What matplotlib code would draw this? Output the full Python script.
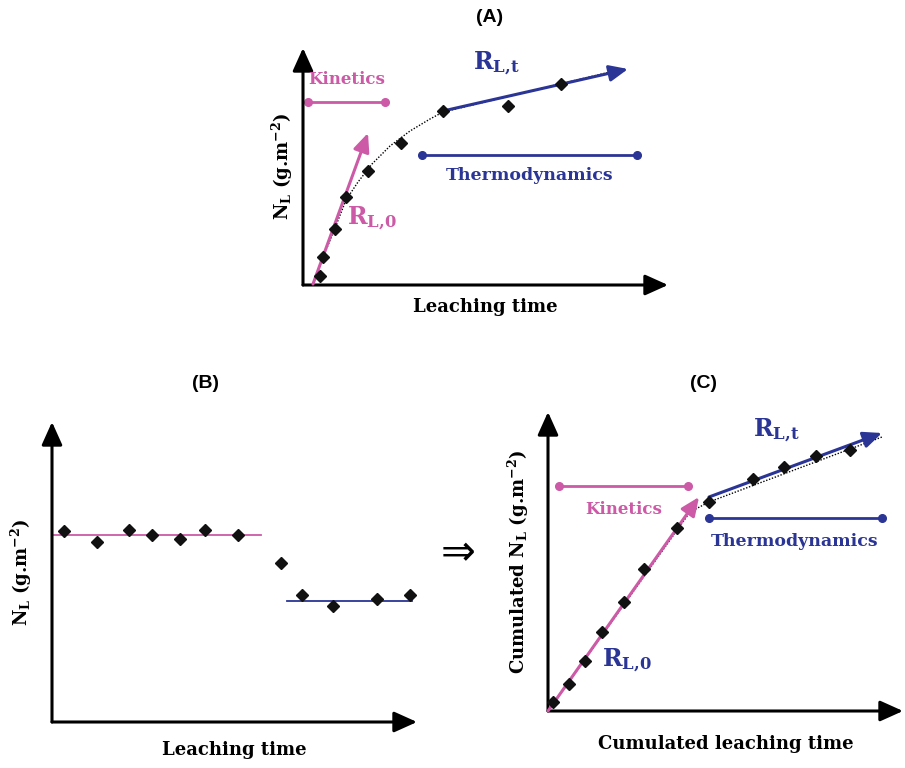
import matplotlib
matplotlib.use("Agg")
import matplotlib.pyplot as plt

PINK = "#CC5AA6"
BLUE = "#2B3595"
SERIF = "DejaVu Serif"
plt.rcParams["font.family"] = [SERIF, "DejaVu Sans"]
plt.rcParams["mathtext.default"] = "regular"

# ---------------- data (arbitrary units) ----------------
# Panel A : N_L vs leaching time
a_x = [1.7, 2.0, 3.2, 4.3, 6.5, 9.8, 14.0, 20.5, 25.8]
a_y = [0.9, 2.8, 5.6, 8.8, 11.4, 14.2, 17.4, 17.9, 20.1]
a_fit_x = [1.0, 2.1, 3.2, 4.3, 5.5, 6.9, 8.7, 10.7, 12.7, 14.0, 30.7]
a_fit_y = [0.1, 3.0, 5.7, 8.5, 10.3, 12.1, 13.9, 15.4, 16.6, 17.3, 21.3]
a_r0 = [(1.0, 0.1), (6.5, 15.2)]
a_rt = [(14.0, 17.4), (32.5, 21.6)]
a_kin = [(0.5, 8.2), 18.3]
a_thermo = [(11.9, 33.4), 13.0]

# Panel B : N_L per interval vs leaching time
b_x = [1.2, 4.5, 7.7, 10.0, 12.8, 15.3, 18.6, 22.9, 25.0, 28.1, 32.5, 35.8]
b_y = [19.1, 18.0, 19.2, 18.7, 18.3, 19.2, 18.7, 15.9, 12.7, 11.6, 12.3, 12.7]
b_kin = [(0.2, 20.9), 18.7]
b_thermo = [(23.5, 36.0), 12.1]

# Panel C : cumulated N_L vs cumulated leaching time
c_x = [0.5, 2.1, 3.7, 5.4, 7.6, 9.6, 12.9, 16.1, 20.5, 23.6, 26.8, 30.2]
c_y = [0.9, 2.7, 5.0, 7.9, 10.9, 14.2, 18.3, 20.9, 23.2, 24.4, 25.5, 26.1]
c_fit_x = [0.0, 14.2, 16.1, 33.4]
c_fit_y = [0.0, 19.9, 20.9, 27.4]
c_r0 = [(0.0, 0.0), (15.1, 21.4)]
c_rt = [(16.1, 21.4), (33.4, 27.8)]
c_kin = [(1.1, 14.0), 22.5]
c_thermo = [(16.1, 33.4), 19.3]

W, H = 905, 768
fig = plt.figure(figsize=(W / 100, H / 100), dpi=100)


def panel(ox, oy, w, h):
    ax = fig.add_axes([ox / W, (H - oy) / H, w / W, h / H])
    ax.set_xlim(0, w / 10)
    ax.set_ylim(0, h / 10)
    ax.set_xticks([])
    ax.set_yticks([])
    for s in ax.spines.values():
        s.set_visible(False)
    ax.patch.set_alpha(0)
    xl, yl = ax.get_xlim(), ax.get_ylim()
    kw = dict(arrowstyle="-|>,head_length=1.0,head_width=0.45", lw=2.2,
              color="black", mutation_scale=14, shrinkA=0, shrinkB=0)
    ax.annotate("", xy=(0, yl[1]), xytext=(0, 0), arrowprops=kw,
                annotation_clip=False)
    ax.annotate("", xy=(xl[1], 0), xytext=(0, 0), arrowprops=kw,
                annotation_clip=False)
    return ax


def arrow(ax, seg, color):
    ax.annotate("", xy=seg[1], xytext=seg[0],
                arrowprops=dict(arrowstyle="-|>,head_length=0.8,head_width=0.35",
                                lw=2.2, color=color, mutation_scale=14,
                                shrinkA=0, shrinkB=0),
                annotation_clip=False)


def span(ax, rng, y, color):
    ax.plot(rng, [y, y], color=color, lw=2.0, marker="o", ms=5.5,
            clip_on=False)


def diamonds(ax, x, y):
    ax.plot(x, y, ls="none", marker="D", ms=5.8, color="#111111",
            clip_on=False, zorder=5)


lab = dict(fontsize=13, fontweight="bold", family=SERIF)

# ---------------- Panel A ----------------
axA = panel(303, 285, 365, 237)
axA.plot(a_fit_x, a_fit_y, color="black", lw=1.0, ls=(0, (1, 1.2)),
         clip_on=False)
arrow(axA, a_r0, PINK)
arrow(axA, a_rt, BLUE)
diamonds(axA, a_x, a_y)
span(axA, a_kin[0], a_kin[1], PINK)
span(axA, a_thermo[0], a_thermo[1], BLUE)
axA.text(4.4, 20.5, "Kinetics", color=PINK, ha="center", va="center",
         fontsize=12, fontweight="bold")
axA.text(22.7, 11.0, "Thermodynamics", color=BLUE, ha="center", va="center",
         fontsize=12.5, fontweight="bold")
axA.text(19.3, 22.2, r"R$_{L{,}t}$", color=BLUE, ha="center", va="center",
         fontsize=17, fontweight="bold")
axA.text(6.9, 6.7, r"R$_{L{,}0}$", color=PINK, ha="center", va="center",
         fontsize=17, fontweight="bold")
axA.set_xlabel("Leaching time", labelpad=9, **lab)
axA.set_ylabel(r"N$_L$ (g.m$^{-2}$)", labelpad=6, **lab)

# ---------------- Panel B ----------------
axB = panel(52, 722, 365, 300)
axB.plot(b_kin[0], [b_kin[1]] * 2, color=PINK, lw=1.3)
axB.plot(b_thermo[0], [b_thermo[1]] * 2, color=BLUE, lw=1.3)
diamonds(axB, b_x, b_y)
axB.set_xlabel("Leaching time", labelpad=14, **lab)
axB.set_ylabel(r"N$_L$ (g.m$^{-2}$)", labelpad=13, **lab)

# ---------------- Panel C ----------------
axC = panel(548, 711, 355, 299)
axC.plot(c_fit_x, c_fit_y, color="black", lw=1.0, ls=(0, (1, 1.2)),
         clip_on=False)
arrow(axC, c_r0, PINK)
arrow(axC, c_rt, BLUE)
diamonds(axC, c_x, c_y)
span(axC, c_kin[0], c_kin[1], PINK)
span(axC, c_thermo[0], c_thermo[1], BLUE)
axC.text(7.6, 20.1, "Kinetics", color=PINK, ha="center", va="center",
         fontsize=12, fontweight="bold")
axC.text(24.7, 17.0, "Thermodynamics", color=BLUE, ha="center", va="center",
         fontsize=12.5, fontweight="bold")
axC.text(22.8, 28.1, r"R$_{L{,}t}$", color=BLUE, ha="center", va="center",
         fontsize=17, fontweight="bold")
axC.text(7.9, 5.1, r"R$_{L{,}0}$", color=BLUE, ha="center", va="center",
         fontsize=17, fontweight="bold")
axC.set_xlabel("Cumulated leaching time", labelpad=17, **lab)
axC.set_ylabel(r"Cumulated N$_L$ (g.m$^{-2}$)", labelpad=12, **lab)

# ---------------- titles & connector ----------------
tkw = dict(ha="center", va="center", fontsize=14, fontweight="bold",
           family=["Liberation Sans", "DejaVu Sans"])
fig.text(490 / W, 1 - 17 / H, "(A)", **tkw)
fig.text(205 / W, 1 - 383 / H, "(B)", **tkw)
fig.text(703 / W, 1 - 383 / H, "(C)", **tkw)
fig.text(458 / W, 1 - 553 / H, "\u21D2", ha="center", va="center",
         fontsize=30, family=["DejaVu Sans"])

fig.savefig("out.png", dpi=100)
